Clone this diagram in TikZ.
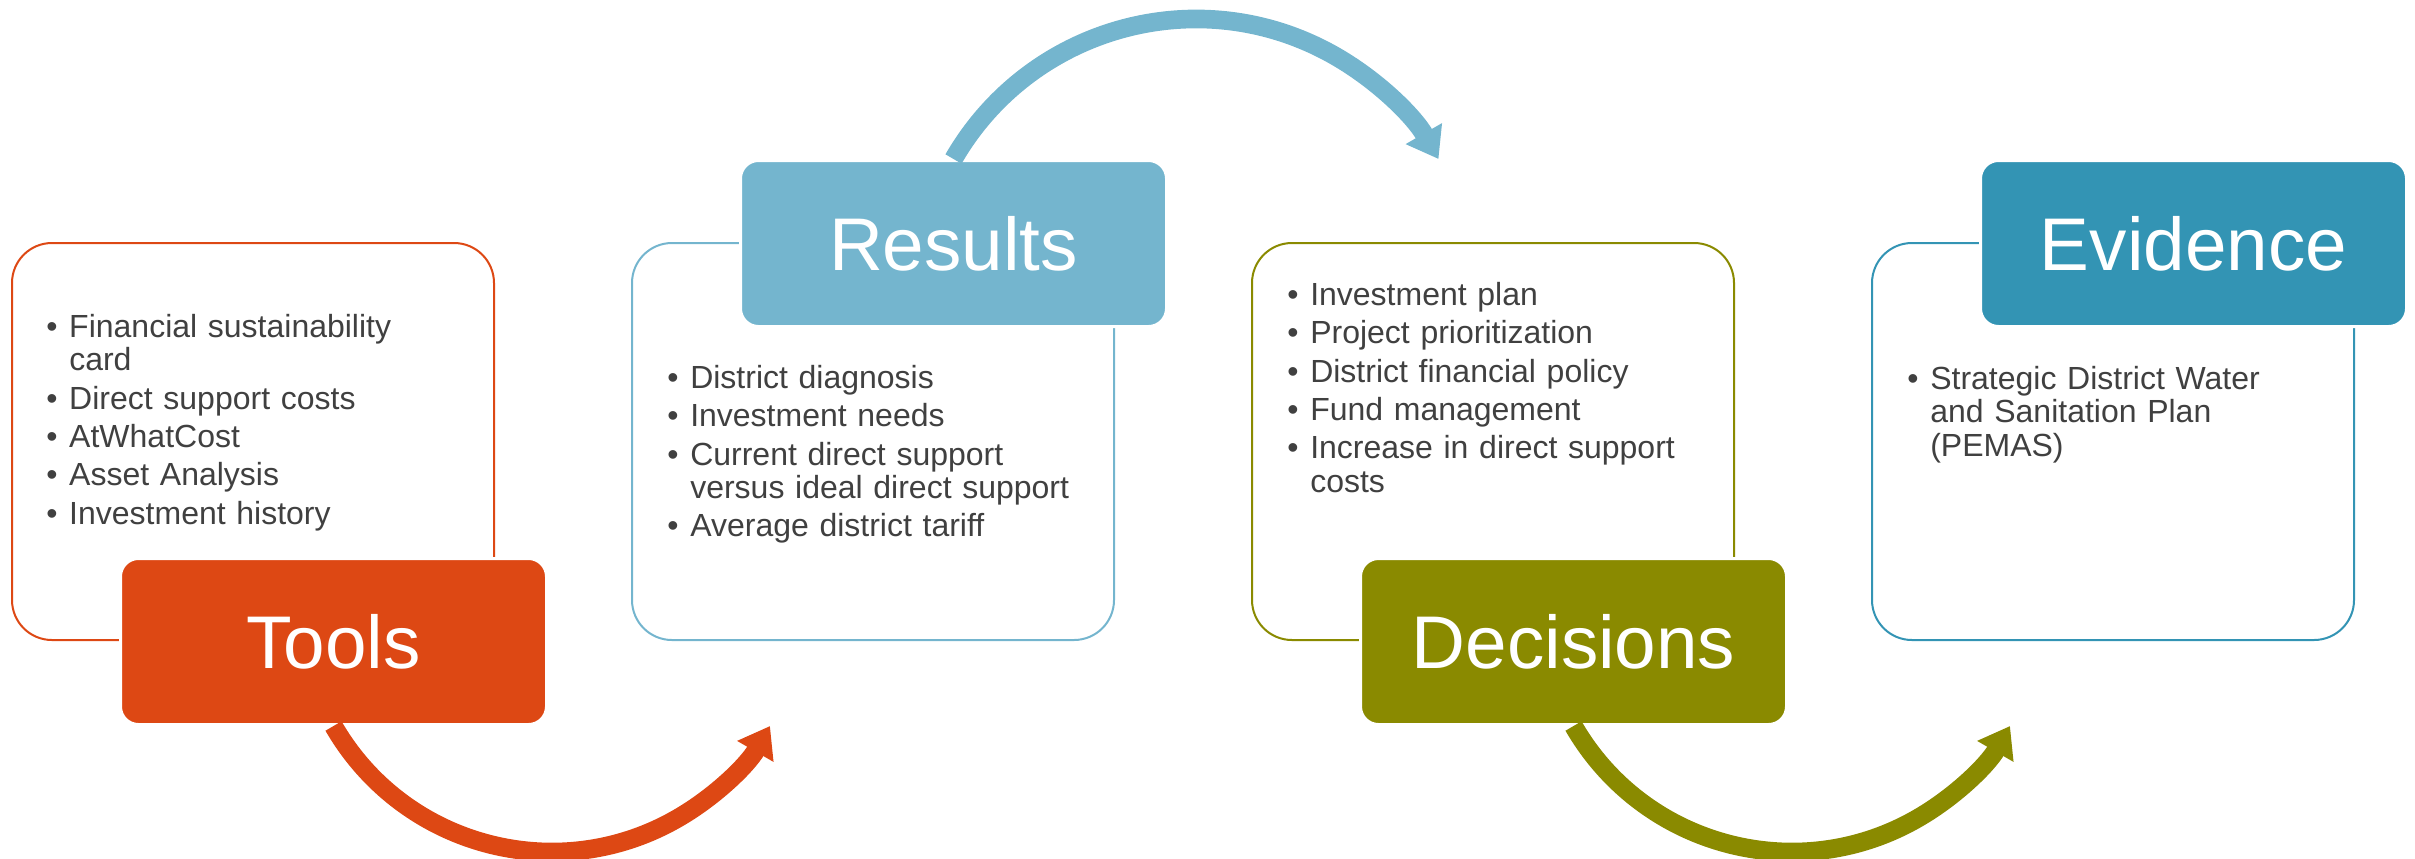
\documentclass[tikz,border=0pt]{standalone}
\usepackage{fontspec}
\setmainfont{Liberation Sans}
\usetikzlibrary{arrows.meta}

\definecolor{toolsOrange}{RGB}{221,72,20}
\definecolor{resultsBlue}{RGB}{116,181,206}
\definecolor{decisionsOlive}{RGB}{138,138,0}
\definecolor{evidenceTeal}{RGB}{51,148,180}
\definecolor{bodyGray}{RGB}{64,64,64}

\newcommand{\bul}[1]{\par\hangindent=17.25pt\hangafter=1\noindent\makebox[17.25pt][l]{\textbullet}\strut#1\par}

\tikzset{
  frameBox/.style={draw=#1, line width=1.5pt, rounded corners=30pt, minimum width=361.5pt, minimum height=297.75pt, inner sep=0pt, anchor=north west},
  titleBox/.style={fill=#1, draw=white, line width=2.25pt, rounded corners=13.5pt, minimum width=319.5pt, minimum height=124.5pt, inner sep=0pt, anchor=north west, text=white, font=\fontsize{56}{56}\selectfont},
  bulletText/.style={anchor=north west, inner sep=0pt, text width=315pt, align=left, text=bodyGray, font=\fontsize{24}{25}\selectfont},
  loopArrow/.style={draw=#1, line width=14pt, -{Triangle[width=30pt,length=22pt]}},
}

\begin{document}
\begin{tikzpicture}[x=0.75pt,y=0.75pt,yscale=-1,xscale=1]
\useasboundingbox (0,0) rectangle (2415,858);

%Shape: Rounded Rect [frames]
\node[frameBox=toolsOrange] (toolsFrame) at (11,242) {};
\node[frameBox=resultsBlue] (resultsFrame) at (631,242) {};
\node[frameBox=decisionsOlive] (decisionsFrame) at (1251,242) {};
\node[frameBox=evidenceTeal] (evidenceFrame) at (1871,242) {};

%Shape: Rounded Rect [titles]
\node[titleBox=toolsOrange] (tools) at (119,557) {Tools};
\node[titleBox=resultsBlue] (results) at (739,159) {Results};
\node[titleBox=decisionsOlive] (decisions) at (1359,557) {Decisions};
\node[titleBox=evidenceTeal] (evidence) at (1979,159) {Evidence};

% Text Node
\node[bulletText] (toolsText) at (46,299) {\setlength{\parskip}{3.75pt}\lineskiplimit=-20pt%
  \bul{Financial sustainability\newline card}
  \bul{Direct support costs}
  \bul{AtWhatCost}
  \bul{Asset Analysis}
  \bul{Investment history}};
% Text Node
\node[bulletText] (resultsText) at (667,350) {\setlength{\parskip}{3.75pt}\lineskiplimit=-20pt%
  \bul{District diagnosis}
  \bul{Investment needs}
  \bul{Current direct support\newline versus ideal direct support}
  \bul{Average district tariff}};
% Text Node
\node[bulletText] (decisionsText) at (1287,267) {\setlength{\parskip}{3.75pt}\lineskiplimit=-20pt%
  \bul{Investment plan}
  \bul{Project prioritization}
  \bul{District financial policy}
  \bul{Fund management}
  \bul{Increase in direct support\newline costs}};
% Text Node
\node[bulletText] (evidenceText) at (1907,351) {\setlength{\parskip}{3.75pt}\lineskiplimit=-20pt%
  \bul{Strategic District Water\newline and Sanitation Plan\newline (PEMAS)}};

%Curve Lines
\draw[loopArrow=toolsOrange] (tools.south) arc[start angle=150, end angle=30, radius=252];
\draw[loopArrow=resultsBlue] (results.north) arc[start angle=210, end angle=330, radius=280];
\draw[loopArrow=decisionsOlive] (decisions.south) arc[start angle=150, end angle=30, radius=252];

\end{tikzpicture}
\end{document}
